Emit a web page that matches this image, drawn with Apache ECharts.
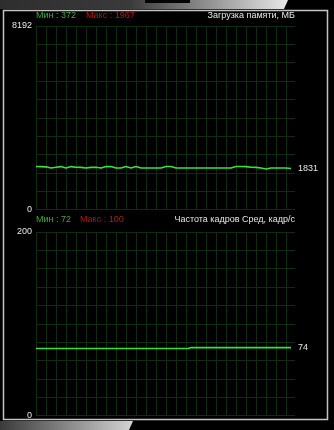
<!DOCTYPE html>
<html>
<head>
<meta charset="utf-8">
<script src="https://cdn.jsdelivr.net/npm/echarts@6/dist/echarts.min.js"></script>
<style>
  html, body { margin: 0; padding: 0; background: #000; }
  #chart { width: 334px; height: 430px; }
</style>
</head>
<body>
<div id="chart"></div>
<script>
// ---- data ----
const memTitle = 'Загрузка памяти, МБ';
const fpsTitle = 'Частота кадров Сред, кадр/с';
const memStats = [372, 1967];   // min, max
const fpsStats = [72, 100];     // min, max
const memTicks = [0, 8192];
const fpsTicks = [0, 200];
const memValues = [
  1920, 1915, 1905, 1850, 1885, 1915, 1850, 1915, 1885, 1880,
  1850, 1880, 1885, 1850, 1920, 1915, 1850, 1850, 1915, 1850,
  1915, 1850, 1850, 1850, 1850, 1850, 1920, 1920, 1850, 1850,
  1850, 1850, 1850, 1850, 1850, 1850, 1850, 1850, 1850, 1850,
  1920, 1920, 1915, 1885, 1880, 1850, 1810, 1850, 1850, 1850,
  1850, 1831
];
const fpsValues = [
  73, 73, 73, 73, 73, 73, 73, 73, 73, 73,
  73, 73, 73, 73, 73, 73, 73, 73, 73, 73,
  73, 73, 73, 73, 73, 73, 73, 73, 73, 73,
  73, 74, 74, 74, 74, 74, 74, 74, 74, 74,
  74, 74, 74, 74, 74, 74, 74, 74, 74, 74,
  74, 74
];

// ---- styles ----
const FONT = 'Liberation Sans';
const GRID_COLOR = '#102c10';
const LINE_COLOR = '#3ce03c';
const GREEN_TXT = '#3fa83f';
const RED_TXT = '#b81414';
const WHITE_TXT = '#e6e6e6';

const chart = echarts.init(document.getElementById('chart'), null, { renderer: 'canvas' });

function xAxisFor(gi) {
  return {
    gridIndex: gi, type: 'value', min: 0, max: 51.8, interval: 2,
    axisLine: { show: false }, axisTick: { show: false }, axisLabel: { show: false },
    splitLine: { show: true, showMaxLine: false, lineStyle: { color: GRID_COLOR, width: 1 } }
  };
}
function yAxisFor(gi, ticks) {
  const maxV = ticks[ticks.length - 1];
  return {
    gridIndex: gi, type: 'value', min: ticks[0], max: maxV, interval: maxV / 10,
    axisLine: { show: false }, axisTick: { show: false },
    axisLabel: {
      color: WHITE_TXT, fontSize: 9, fontFamily: FONT, margin: 4,
      formatter: v => (ticks.indexOf(Math.round(v)) >= 0 && Math.abs(v - Math.round(v)) < 1e-6) ? String(Math.round(v)) : ''
    },
    splitLine: { show: true, lineStyle: { color: GRID_COLOR, width: 1 } }
  };
}
function titleText(text, color, pos) {
  return Object.assign({
    text: text, padding: 0,
    textStyle: { color: color, fontSize: 9, fontWeight: 'normal', fontFamily: FONT, lineHeight: 11 }
  }, pos);
}
function lineSeries(gi, values, step) {
  return {
    type: 'line', xAxisIndex: gi, yAxisIndex: gi,
    data: values.map((v, i) => [i, v]),
    showSymbol: false, symbol: 'none', step: step,
    lineStyle: { color: LINE_COLOR, width: 1.6 },
    endLabel: {
      show: true, distance: 7, color: WHITE_TXT, fontSize: 9, fontFamily: FONT,
      formatter: p => String(p.value[1])
    },
    emphasis: { disabled: true },
    animation: false
  };
}

const option = {
  backgroundColor: '#000',
  animation: false,
  title: [
    titleText('Мин : ' + memStats[0], GREEN_TXT, { left: 36, top: 10 }),
    titleText('Макс : ' + memStats[1], RED_TXT, { left: 86, top: 10 }),
    titleText(memTitle, WHITE_TXT, { right: 39, top: 10 }),
    titleText('Мин : ' + fpsStats[0], GREEN_TXT, { left: 36, top: 214.5 }),
    titleText('Макс : ' + fpsStats[1], RED_TXT, { left: 80, top: 214.5 }),
    titleText(fpsTitle, WHITE_TXT, { right: 39, top: 214.5 })
  ],
  grid: [
    { left: 36, top: 26, width: 259, height: 183.5 },
    { left: 36, top: 232, width: 259, height: 183.5 }
  ],
  xAxis: [xAxisFor(0), xAxisFor(1)],
  yAxis: [yAxisFor(0, memTicks), yAxisFor(1, fpsTicks)],
  series: [lineSeries(0, memValues, false), lineSeries(1, fpsValues, 'middle')],
  graphic: [
    // top decorative strip
    { type: 'polygon', silent: true, z: -1,
      shape: { points: [[0, 0], [288, 0], [284, 9], [0, 9]] },
      style: { fill: new echarts.graphic.LinearGradient(0, 0, 1, 0, [
        { offset: 0, color: '#2e2e2e' }, { offset: 0.45, color: '#3a3a3a' },
        { offset: 0.7, color: '#8a8a8a' }, { offset: 1, color: '#e8e8e8' }]) } },
    { type: 'rect', silent: true, z: -1, shape: { x: 145, y: 0, width: 45, height: 3 }, style: { fill: '#050505' } },
    // bottom decorative strip
    { type: 'polygon', silent: true, z: -1,
      shape: { points: [[0, 421], [133, 421], [129, 430], [0, 430]] },
      style: { fill: new echarts.graphic.LinearGradient(0, 0, 1, 0, [
        { offset: 0, color: '#3a3a3a' }, { offset: 1, color: '#d4d4d4' }]) } },
    // frame
    { type: 'rect', silent: true, z: -1,
      shape: { x: 3.5, y: 10.5, width: 324, height: 409 },
      style: { fill: null, stroke: '#c4c4c4', lineWidth: 1.5 } }
  ]
};
chart.setOption(option);
</script>
</body>
</html>
